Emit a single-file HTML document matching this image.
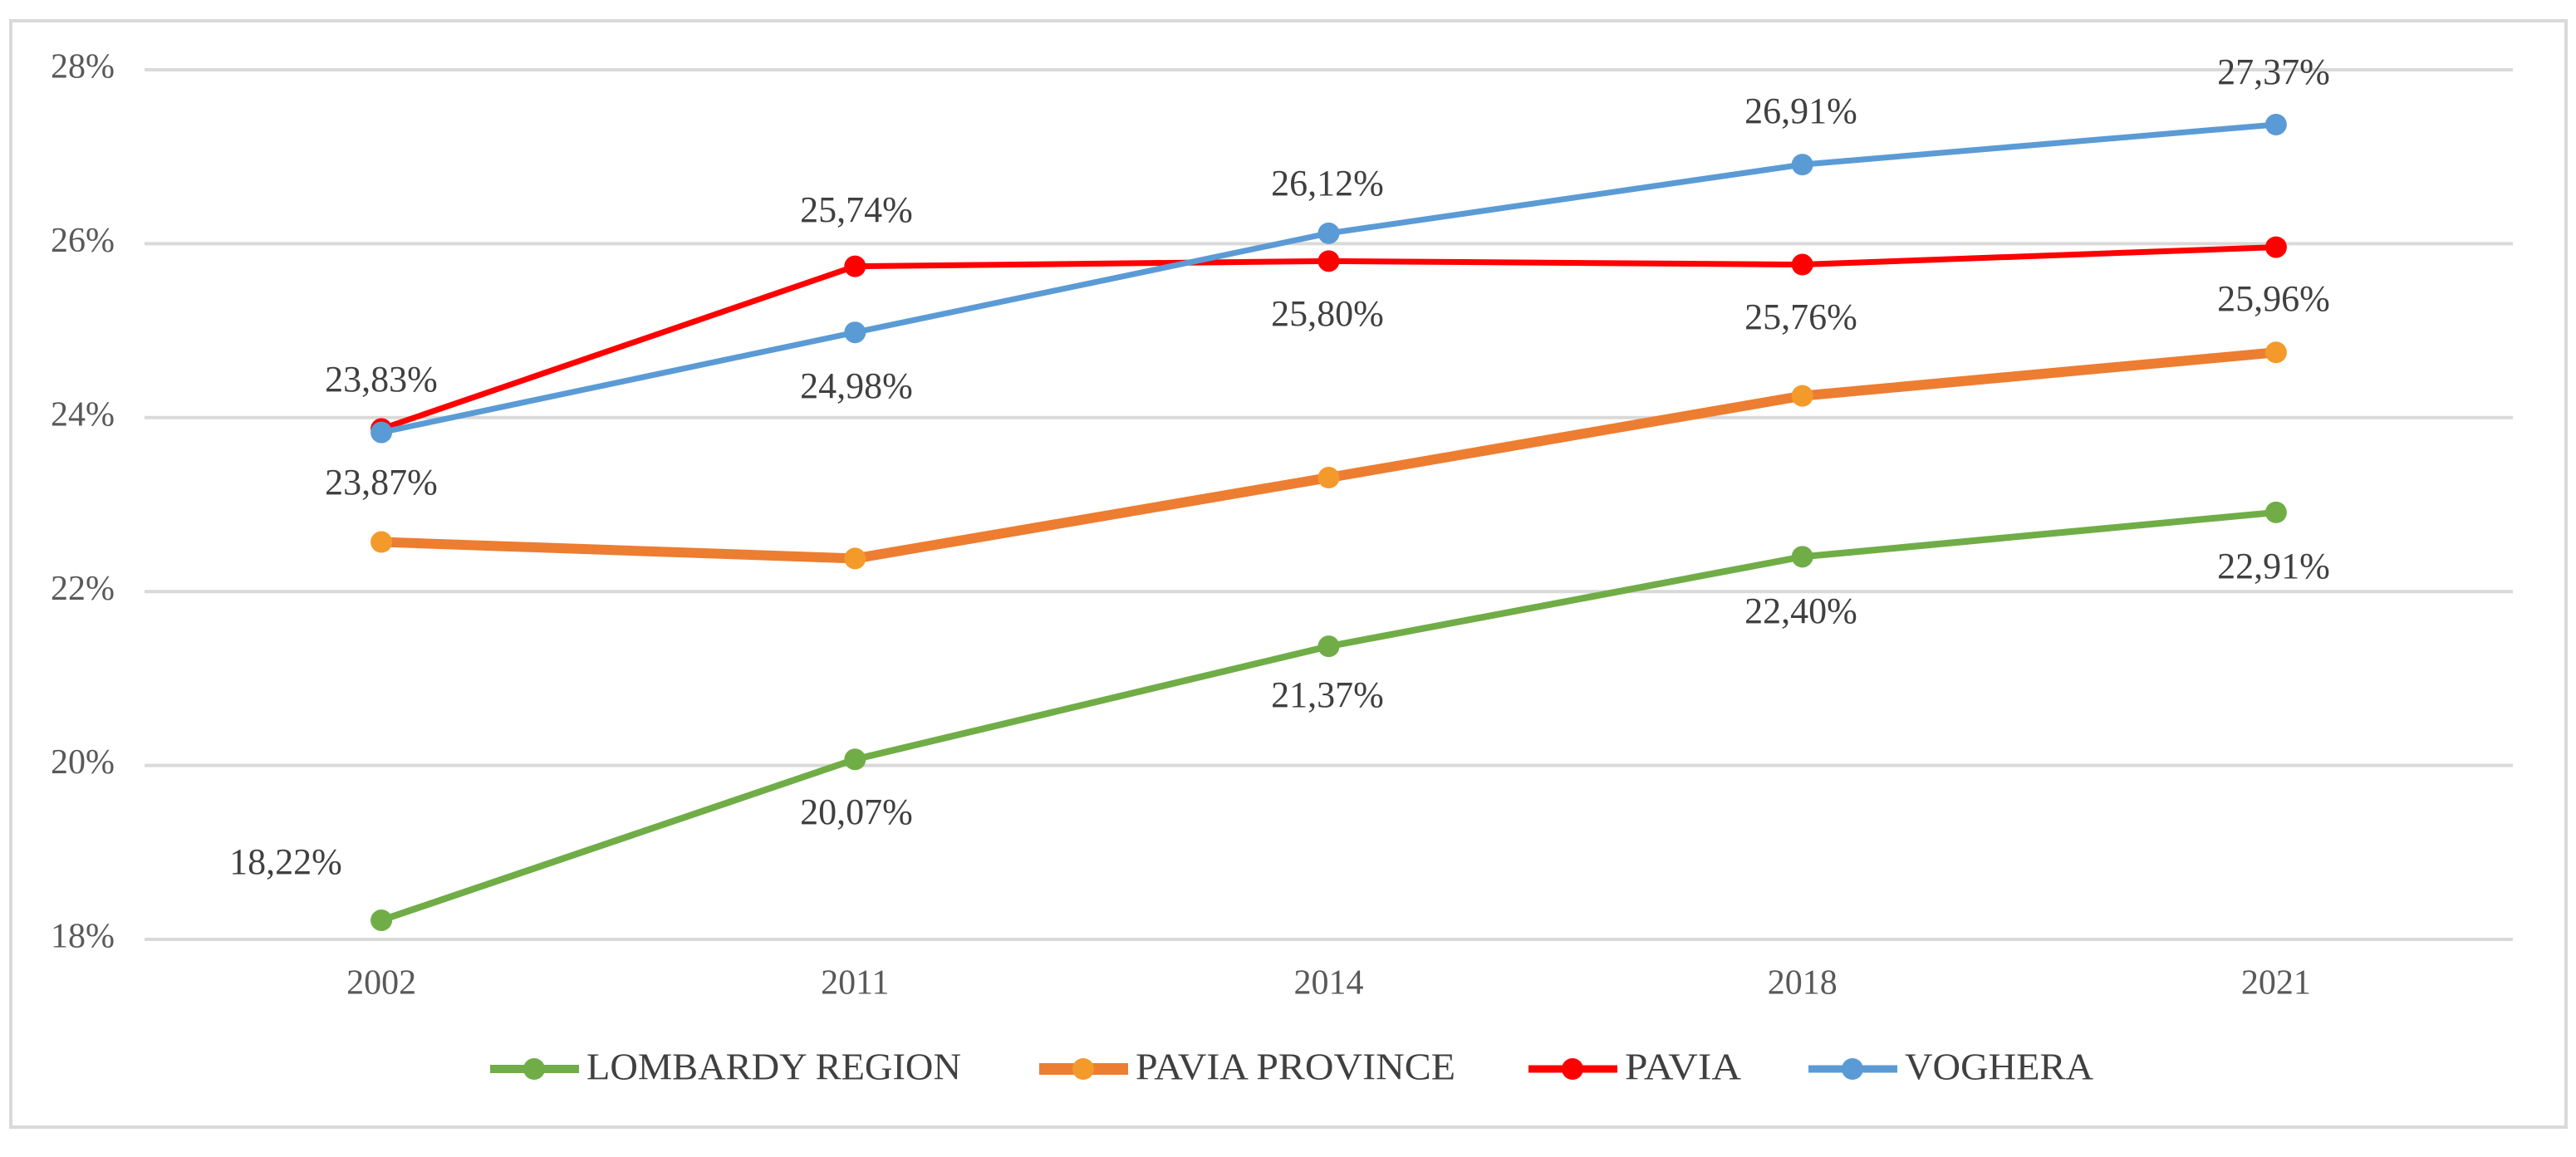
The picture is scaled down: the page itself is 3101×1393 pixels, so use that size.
<!DOCTYPE html>
<html><head><meta charset="utf-8"><style>
html,body{margin:0;padding:0;background:#fff;}
svg{display:block;font-family:"Liberation Serif",serif;}
</style></head><body>
<svg id="chart" width="3101" height="1393" viewBox="0 0 3101 1393">
<rect x="13" y="25" width="3076" height="1332" fill="#fff" stroke="#d9d9d9" stroke-width="4"/>
<g id="grid"></g><g id="yticks"></g><g id="xticks"></g><g id="series"></g>
<g id="labels" font-size="44" fill="#404040" text-anchor="middle" dominant-baseline="middle">
<text x="459" y="461">23,83%</text>
<text x="459" y="585">23,87%</text>
<text x="1031" y="257">25,74%</text>
<text x="1031" y="469">24,98%</text>
<text x="1598" y="225">26,12%</text>
<text x="1598" y="382">25,80%</text>
<text x="2168" y="138">26,91%</text>
<text x="2168" y="386">25,76%</text>
<text x="2737" y="91">27,37%</text>
<text x="2737" y="364">25,96%</text>
<text x="2737" y="686">22,91%</text>
<text x="2168" y="740">22,40%</text>
<text x="1598" y="841">21,37%</text>
<text x="1031" y="982">20,07%</text>
<text x="344" y="1042">18,22%</text>
</g>
<g id="legend" font-size="45" fill="#404040" dominant-baseline="middle"></g>
</svg>
<script>
const categories = ["2002","2011","2014","2018","2021"];
const lombardy = [18.22, 20.07, 21.37, 22.40, 22.91];
const paviaProvince = [22.57, 22.38, 23.31, 24.25, 24.75];
const pavia = [23.87, 25.74, 25.80, 25.76, 25.96];
const voghera = [23.83, 24.98, 26.12, 26.91, 27.37];
const yTicks = [18, 20, 22, 24, 26, 28];
const yTickLabels = ["18%","20%","22%","24%","26%","28%"];
const seriesNames = ["LOMBARDY REGION","PAVIA PROVINCE","PAVIA","VOGHERA"];

const NS="http://www.w3.org/2000/svg";
const plotL=174, plotR=3025, yTop=84, yBot=1131;
const xScale=i=>plotL+(plotR-plotL)/categories.length*(i+0.5);
const yScale=v=>yBot-(v-18)/(28-18)*(yBot-yTop);
function mk(tag,attrs,parent){const e=document.createElementNS(NS,tag);for(const k in attrs)e.setAttribute(k,attrs[k]);parent.appendChild(e);return e;}
const grid=document.getElementById('grid'), yt=document.getElementById('yticks'), xt=document.getElementById('xticks');
yTicks.forEach((t,i)=>{
  const l=mk('line',{x1:plotL,x2:plotR,y1:yScale(t),y2:yScale(t),stroke:'#d9d9d9','stroke-width':4},grid);
  
  
  const tx=mk('text',{x:138,y:yScale(t),'text-anchor':'end','dominant-baseline':'middle','font-size':42,fill:'#595959'},yt);
  tx.textContent=yTickLabels[i];
  
  
});
categories.forEach((c,i)=>{
  const tx=mk('text',{x:xScale(i),y:1187,'text-anchor':'middle','dominant-baseline':'middle','font-size':42,fill:'#595959'},xt);
  tx.textContent=c;
  
  
});
const colors=['#70ad47','#ed7d31','#ff0000','#5b9bd5'];
const mcolors=['#70ad47','#f39a2a','#ff0000','#5b9bd5'];
const widths=[8,12,7,7];
const allData=[lombardy,paviaProvince,pavia,voghera];
const sg=document.getElementById('series');
allData.forEach((d,s)=>{
  const g=mk('g',{},sg);
  
  
  const p=mk('polyline',{points:d.map((v,i)=>xScale(i)+','+yScale(v)).join(' '),fill:'none',stroke:colors[s],'stroke-width':widths[s],'stroke-linejoin':'round'},g);
  
  
  d.forEach((v,i)=>{
    const c=mk('circle',{cx:xScale(i),cy:yScale(v),r:13,fill:mcolors[s]},g);
    
    
  });
});
const lg=document.getElementById('legend');
const lx=[590,1251,1840,2177];
const tw=[451,385,140,227];
seriesNames.forEach((n,s)=>{
  const g=mk('g',{},lg);
  
  
  mk('line',{x1:lx[s],x2:lx[s]+107,y1:1287,y2:1287,stroke:colors[s],'stroke-width':widths[s]+2},g);
  mk('circle',{cx:lx[s]+53,cy:1287,r:13,fill:mcolors[s]},g);
  const t=mk('text',{x:lx[s]+116,y:1289,textLength:tw[s],lengthAdjust:'spacingAndGlyphs'},g);
  t.textContent=n;
});
</script>
</body></html>
